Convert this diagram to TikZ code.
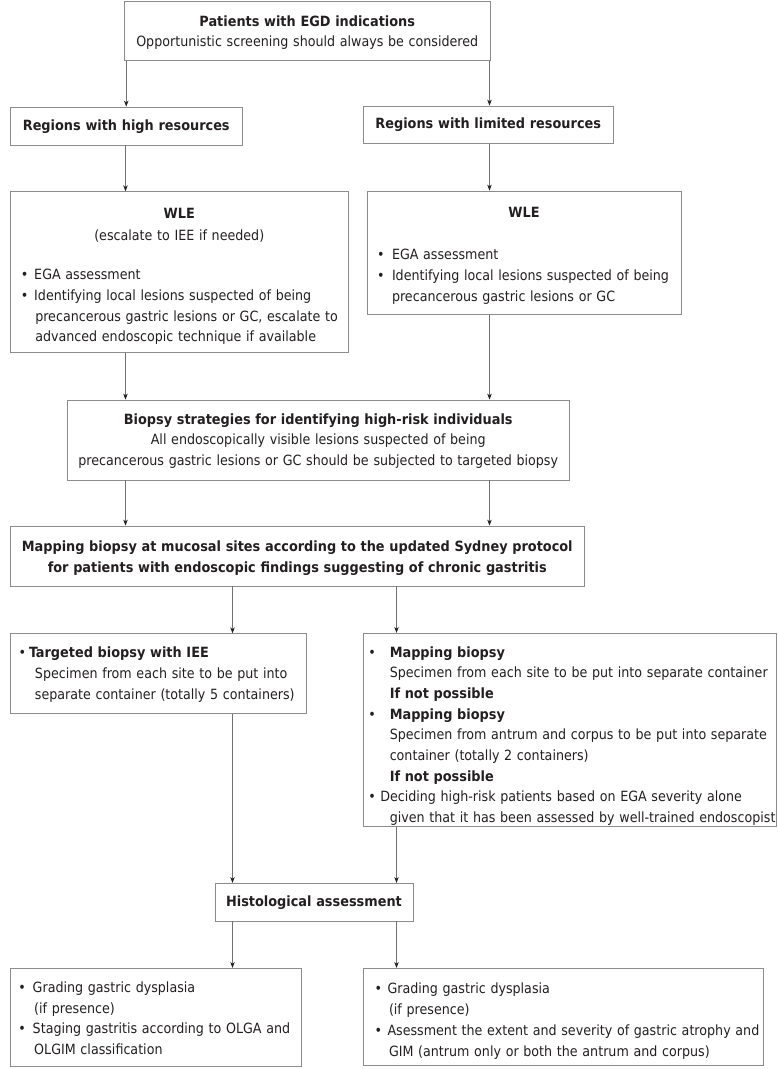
\documentclass[tikz,border=0pt]{standalone}
\usepackage{fontspec}
\setmainfont{DejaVu Sans Condensed}[BoldFeatures={FakeStretch=1.015}]
\usetikzlibrary{arrows.meta}
\definecolor{txt}{HTML}{231F20}
\definecolor{bord}{HTML}{8C8C8C}
\definecolor{arrc}{HTML}{707070}
\newcommand\bu[3][0pt]{\mbox{\makebox[#2][l]{\hspace*{-#1}•}#3}}
\newcommand\ind[2]{\mbox{\hspace*{#1}#2}}
\newcommand\cl[1]{\makebox[\hsize][c]{#1}}
\newcommand\sh[1]{\rule{0pt}{\dimexpr10.7pt+2\dimexpr#1\relax\relax}}
\begin{document}
\begin{tikzpicture}[x=1pt,y=-1pt,
  box/.style={draw=bord, line width=0.8pt, text=txt, inner sep=0pt,
    font=\fontsize{14.1}{20.7}\selectfont},
  arr/.style={draw=arrc, line width=0.7pt, -{Stealth[length=6pt,width=4.5pt,color=txt]}}]
\useasboundingbox (0,0) rectangle (777,1069);
\coordinate (xL) at (125.5,0);
\coordinate (xR) at (489.5,0);
\coordinate (xl2) at (232.5,0);
\coordinate (xr2) at (396.5,0);

\node[box, minimum width=365.5pt, minimum height=59.3pt, text width=355pt, align=center] (top) at (307.25,30.6)
  {\sh{2pt}\textbf{Patients with EGD indications}\\Opportunistic screening should always be considered};
\node[box, minimum width=232.5pt, minimum height=38pt, text width=225pt, align=center] (rhigh) at (126.25,126)
  {\sh{1pt}\textbf{Regions with high resources}};
\node[box, minimum width=249.5pt, minimum height=37.7pt, text width=240pt, align=center] (rlim) at (488.25,124.85)
  {\textbf{Regions with limited resources}};

\node[box, minimum width=338.5pt, minimum height=160.8pt, text width=314pt, align=left] (wle1) at (179.25,272.1)
  {\sh{4pt}\cl{\textbf{WLE}}\\[2pt]
   \cl{(escalate to IEE if needed)}\\[18pt]
   \bu[1.5pt]{12pt}{EGA assessment}\\
   \bu[1.5pt]{12pt}{Identifying local lesions suspected of being}\\
   \ind{13pt}{precancerous gastric lesions or GC, escalate to}\\
   \ind{13pt}{advanced endoscopic technique if available}};
\node[box, minimum width=314pt, minimum height=123.3pt, text width=286pt, align=left] (wle2) at (524,252.65)
  {\sh{3pt}\cl{\textbf{WLE}}\\[21pt]
   \bu[4pt]{11pt}{EGA assessment}\\
   \bu[4pt]{11pt}{Identifying local lesions suspected of being}\\
   \ind{11pt}{precancerous gastric lesions or GC}};

\node[box, minimum width=502.5pt, minimum height=80pt, text width=495pt, align=center] (biopsy) at (318.25,440)
  {\sh{1pt}\textbf{Biopsy strategies for identifying high-risk individuals}\\
   All endoscopically visible lesions suspected of being\\
   \mbox{precancerous gastric lesions or GC should be subjected to targeted biopsy}};

\node[box, minimum width=573.5pt, minimum height=60pt, text width=568pt, align=center] (map) at (297.25,556)
  {\sh{2.5pt}\mbox{\textbf{Mapping biopsy at mucosal sites according to the updated Sydney protocol}}\\
   \mbox{\textbf{for patients with endoscopic findings suggesting of chronic gastritis}}};

\node[box, minimum width=296pt, minimum height=79.6pt, text width=272pt, align=left] (targ) at (158,673.5)
  {\sh{1pt}\bu[3.5pt]{7pt}{\textbf{Targeted biopsy with IEE}}\\
   \ind{13pt}{Specimen from each site to be put into}\\
   \ind{13pt}{separate container (totally 5 containers)}};

\node[box, minimum width=412.5pt, minimum height=193.4pt, text width=392pt, align=left] (mapb) at (569.75,730)
  {\sh{6pt}\bu[5.5pt]{16pt}{\textbf{Mapping biopsy}}\\
   \ind{16pt}{Specimen from each site to be put into separate container}\\
   \ind{16pt}{\textbf{If not possible}}\\
   \bu[5.5pt]{16pt}{\textbf{Mapping biopsy}}\\
   \ind{16pt}{Specimen from antrum and corpus to be put into separate}\\
   \ind{16pt}{container (totally 2 containers)}\\
   \ind{16pt}{\textbf{If not possible}}\\
   \bu[5.5pt]{6.5pt}{Deciding high-risk patients based on EGA severity alone}\\
   \ind{16pt}{given that it has been assessed by well-trained endoscopist}};

\node[box, minimum width=198pt, minimum height=37.7pt, text width=190pt, align=center] (hist) at (314,902.15)
  {\sh{1pt}\textbf{Histological assessment}};

\node[box, minimum width=291.5pt, minimum height=97.7pt, text width=266pt, align=left] (bl) at (155.75,1017.15)
  {\sh{1pt}\bu[4.5pt]{10pt}{Grading gastric dysplasia}\\
   \ind{11.5pt}{(if presence)}\\
   \bu[4.5pt]{10pt}{Staging gastritis according to OLGA and}\\
   \ind{11.5pt}{OLGIM classification}};

\node[box, minimum width=400pt, minimum height=96.7pt, text width=370pt, align=left] (br) at (563,1016.65)
  {\sh{4.5pt}\bu[3.5pt]{9.5pt}{Grading gastric dysplasia}\\
   \ind{11pt}{(if presence)}\\
   \bu[3.5pt]{9.5pt}{Asessment the extent and severity of gastric atrophy and}\\
   \ind{11pt}{GIM (antrum only or both the antrum and corpus)}};

\draw[arr] (rhigh.north |- top.south) -- (rhigh.north);
\draw[arr] (top.south -| xR) -- (rlim.north -| xR);
\draw[arr] (rhigh.south -| xL) -- (wle1.north -| xL);
\draw[arr] (rlim.south -| xR) -- (wle2.north -| xR);
\draw[arr] (wle1.south -| xL) -- (biopsy.north -| xL);
\draw[arr] (wle2.south -| xR) -- (biopsy.north -| xR);
\draw[arr] (biopsy.south -| xL) -- (map.north -| xL);
\draw[arr] (biopsy.south -| xR) -- (map.north -| xR);
\draw[arr] (map.south -| xl2) -- (targ.north -| xl2);
\draw[arr] (map.south -| xr2) -- (mapb.north -| xr2);
\draw[arr] (targ.south -| xl2) -- (hist.north -| xl2);
\draw[arr] (mapb.south -| xr2) -- (hist.north -| xr2);
\draw[arr] (hist.south -| xl2) -- (bl.north -| xl2);
\draw[arr] (hist.south -| xr2) -- (br.north -| xr2);
\end{tikzpicture}
\end{document}
